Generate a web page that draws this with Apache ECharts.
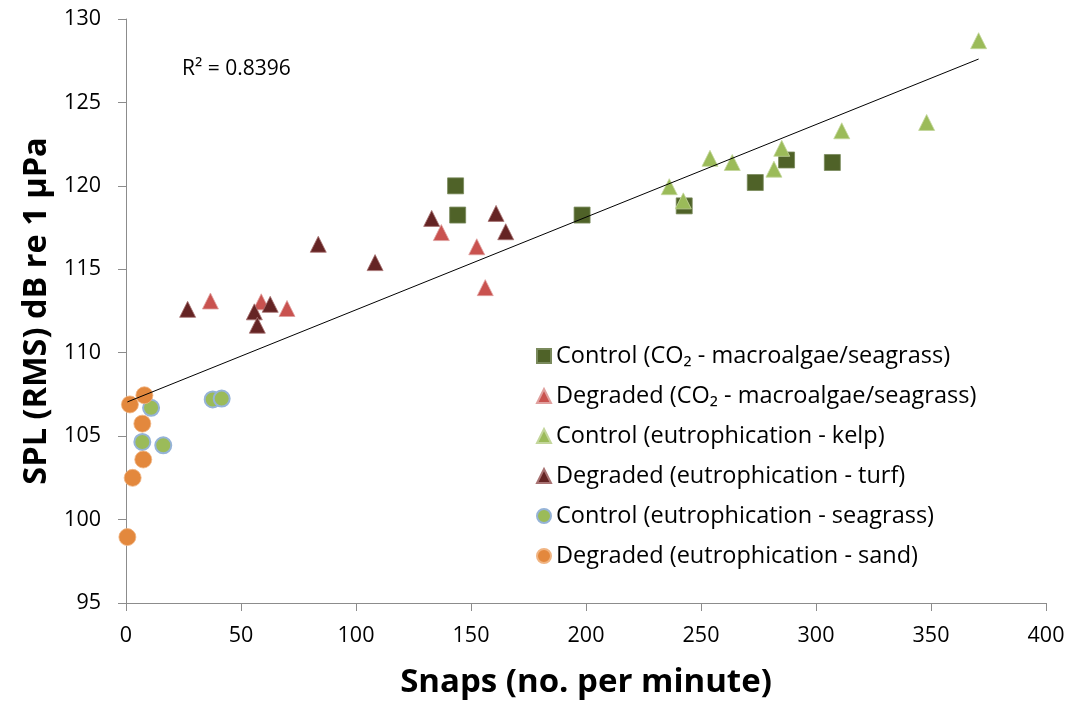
<!DOCTYPE html>
<html>
<head>
<meta charset="utf-8">
<script src="https://cdn.jsdelivr.net/npm/echarts@6/dist/echarts.min.js"></script>
<style>
  html, body { margin: 0; padding: 0; background: #fff; }
  #chart { width: 1074px; height: 709px; }
</style>
</head>
<body>
<div id="chart"></div>
<script>
// values: [snaps per minute, SPL dB]
const controlCO2 = [[143.3, 120.0], [144.2, 118.25], [198.3, 118.25], [242.7, 118.8], [273.6, 120.2], [287.2, 121.55], [307.1, 121.4]];
const degradedCO2 = [[36.7, 113.1], [58.8, 113.05], [70.0, 112.65], [137.1, 117.2], [152.5, 116.35], [156.2, 113.9]];
const controlKelp = [[236.2, 119.95], [242.3, 119.1], [253.9, 121.65], [263.6, 121.4], [281.7, 121.0], [285.1, 122.25], [311.2, 123.3], [348.1, 123.8], [370.7, 128.7]];
const degradedTurf = [[26.8, 112.6], [55.8, 112.45], [57.1, 111.65], [62.7, 112.9], [83.6, 116.5], [108.3, 115.4], [132.9, 118.05], [160.9, 118.35], [165.1, 117.25]];
const controlSeagrass = [[10.9, 106.7], [7.1, 104.65], [16.2, 104.45], [37.7, 107.2], [41.6, 107.25]];
const degradedSand = [[1.7, 106.9], [8.0, 107.45], [7.1, 105.75], [7.5, 103.6], [2.9, 102.5], [0.6, 98.95]];

const trendX = [0.6, 370.7];
const trendY = [107.05, 127.6];
const r2Label = 'R\u00b2 = 0.8396';

const seriesNames = [
    'Control (CO\u2082 - macroalgae/seagrass)',
    'Degraded (CO\u2082 - macroalgae/seagrass)',
    'Control (eutrophication - kelp)',
    'Degraded (eutrophication - turf)',
    'Control (eutrophication - seagrass)',
    'Degraded (eutrophication - sand)'
];

const font = '"Open Sans", Lato, sans-serif';
const axisGrey = '#8c8c8c';

const chart = echarts.init(document.getElementById('chart'));

const option = {
    animation: false,
    textStyle: { fontFamily: font },
    grid: { left: 126, right: 28, top: 19, bottom: 106 },
    legend: {
        data: seriesNames,
        orient: 'vertical',
        left: 531,
        top: 339,
        itemWidth: 14,
        itemHeight: 14,
        itemGap: 16,
        textStyle: { fontFamily: font, fontSize: 23.5, color: '#000', padding: [0, 0, 0, 0] }
    },
    title: {
        text: r2Label,
        left: 177,
        top: 54,
        textStyle: { fontFamily: font, fontSize: 21, fontWeight: 'normal', color: '#000' }
    },
    xAxis: {
        type: 'value',
        min: 0,
        max: 400,
        interval: 50,
        name: 'Snaps (no. per minute)',
        nameLocation: 'middle',
        nameGap: 63,
        nameTextStyle: { fontFamily: font, fontSize: 33, fontWeight: 'bold', color: '#000' },
        axisLine: { show: true, lineStyle: { color: axisGrey } },
        axisTick: { show: true, length: 8, lineStyle: { color: axisGrey } },
        axisLabel: { fontSize: 21.5, color: '#000', margin: 22 },
        splitLine: { show: false }
    },
    yAxis: {
        type: 'value',
        min: 95,
        max: 130,
        interval: 5,
        name: 'SPL (RMS) dB re 1 \u00b5Pa',
        nameLocation: 'middle',
        nameGap: 73,
        nameTextStyle: { fontFamily: font, fontSize: 32.5, fontWeight: 'bold', color: '#000' },
        axisLine: { show: true, lineStyle: { color: axisGrey } },
        axisTick: { show: true, length: 8, lineStyle: { color: axisGrey } },
        axisLabel: { fontSize: 21.5, color: '#000', margin: 25 },
        splitLine: { show: false }
    },
    series: [
        {
            name: 'trend',
            type: 'line',
            data: trendX.map((x, i) => [x, trendY[i]]),
            showSymbol: false,
            lineStyle: { color: '#000', width: 1 },
            z: 3,
            silent: true
        },
        {
            name: seriesNames[0], type: 'scatter', data: controlCO2,
            symbol: 'rect', symbolSize: 16,
            itemStyle: { color: '#4f6228', borderColor: '#7a8a5c', borderWidth: 0.8, opacity: 1 }
        },
        {
            name: seriesNames[1], type: 'scatter', data: degradedCO2,
            symbol: 'triangle', symbolSize: 16,
            itemStyle: { color: '#c9524f', borderColor: '#e0a09e', borderWidth: 0.8, opacity: 1 }
        },
        {
            name: seriesNames[2], type: 'scatter', data: controlKelp,
            symbol: 'triangle', symbolSize: 16,
            itemStyle: { color: '#9bbb59', borderColor: '#c3d69b', borderWidth: 0.8, opacity: 1 }
        },
        {
            name: seriesNames[3], type: 'scatter', data: degradedTurf,
            symbol: 'triangle', symbolSize: 16,
            itemStyle: { color: '#652424', borderColor: '#a87272', borderWidth: 0.8, opacity: 1 }
        },
        {
            name: seriesNames[4], type: 'scatter', data: controlSeagrass,
            symbol: 'circle', symbolSize: 16,
            itemStyle: { color: '#9bbb59', borderColor: '#95b3d7', borderWidth: 2, opacity: 1 }
        },
        {
            name: seriesNames[5], type: 'scatter', data: degradedSand,
            symbol: 'circle', symbolSize: 17,
            itemStyle: { color: '#e3883d', borderColor: '#f0b482', borderWidth: 0.8, opacity: 1 }
        }
    ]
};

chart.setOption(option);
</script>
</body>
</html>
